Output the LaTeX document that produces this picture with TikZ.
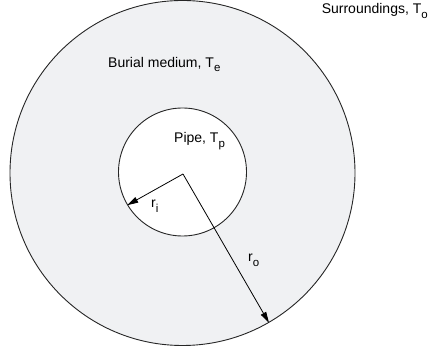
\documentclass[tikz,border=0pt]{standalone}
\usepackage{fontspec}
\setmainfont{Liberation Sans}
\usetikzlibrary{arrows.meta}
\definecolor{medium}{RGB}{240,241,243}
\newcommand{\subtxt}[1]{\raisebox{-0.6ex}{\fontsize{11.5}{11.5}\selectfont #1}}
\begin{document}
\begin{tikzpicture}[x=1pt,y=-1pt,
  lbl/.style={inner sep=0pt,font=\fontsize{14}{16}\selectfont},
  ring/.style={draw=black!85,line width=0.9pt},
  radius arrow/.style={draw=black,line width=0.8pt,-{Triangle[length=11pt,width=6pt]}}]
\useasboundingbox (0,0) rectangle (429,352);
\fill[white] (0,0) rectangle (429,352);
\node[ring,fill=medium,circle,minimum size=345pt,inner sep=0pt] (outer) at (182.5,173) {};
\node[ring,fill=white,circle,minimum size=128pt,inner sep=0pt] (pipe) at (182.5,172) {};
\coordinate (c) at (183,174);
\draw[radius arrow] (c) -- (pipe.211);
\draw[radius arrow] (c) -- (outer.-60.3);
\node[lbl,anchor=base east] (sur) at (428,14) {Surroundings, T\subtxt{o}};
\node[lbl,anchor=base west] (bur) at (108,67.5) {Burial medium, T\subtxt{e}};
\node[lbl,anchor=base west] (pp) at (174,143) {Pipe, T\subtxt{p}};
\node[lbl,anchor=base west] (ri) at (151,208) {r\subtxt{i}};
\node[lbl,anchor=base west] (ro) at (248,262) {r\subtxt{o}};
\end{tikzpicture}
\end{document}
